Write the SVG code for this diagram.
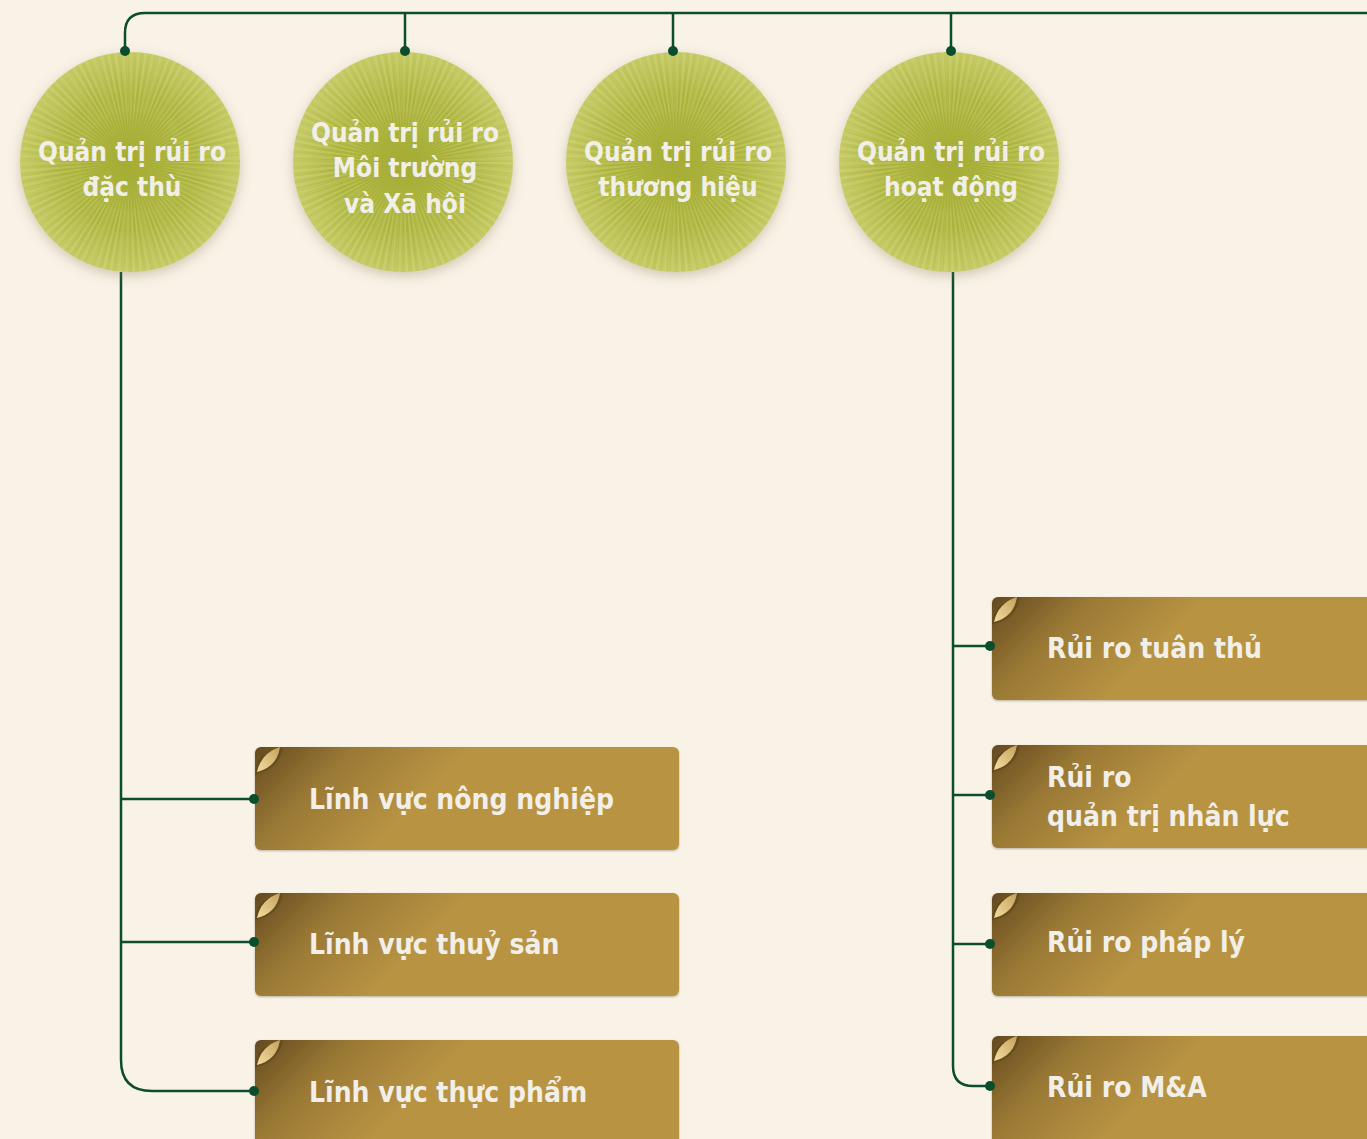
<svg xmlns="http://www.w3.org/2000/svg" width="1367" height="1139" viewBox="0 0 1367 1139">
<defs>
<radialGradient id="cg" cx="50%" cy="50%" r="50%">
<stop offset="0" stop-color="#a5ad34"/>
<stop offset="0.6" stop-color="#acb43f"/>
<stop offset="1" stop-color="#c3c862"/>
</radialGradient>
<linearGradient id="bg" x1="0" y1="0" x2="110" y2="110" gradientUnits="userSpaceOnUse">
<stop offset="0" stop-color="#65491f"/>
<stop offset="0.45" stop-color="#9a7935"/>
<stop offset="1" stop-color="#b89443"/>
</linearGradient>
<linearGradient id="peel" x1="0" y1="1" x2="1" y2="0">
<stop offset="0" stop-color="#f3dca0"/>
<stop offset="1" stop-color="#c6a25a"/>
</linearGradient>
<filter id="sh" x="-20%" y="-20%" width="140%" height="140%">
<feDropShadow dx="0" dy="4" stdDeviation="6" flood-color="#8a7a50" flood-opacity="0.35"/>
</filter>
<filter id="bsh" x="-5%" y="-10%" width="110%" height="125%">
<feDropShadow dx="0" dy="1" stdDeviation="1" flood-color="#5a4a30" flood-opacity="0.4"/>
</filter>
<radialGradient id="fade">
<stop offset="0" stop-color="#a5ad34" stop-opacity="1"/>
<stop offset="1" stop-color="#a5ad34" stop-opacity="0"/>
</radialGradient>
<g id="circ">
<circle r="110" fill="url(#cg)"/>
<circle r="55" fill="none" stroke="#e4e79a" stroke-opacity="0.22" stroke-width="110" stroke-dasharray="1.6 2.2"/>
<circle r="80" fill="none" stroke="#d8dc7c" stroke-opacity="0.22" stroke-width="60" stroke-dasharray="1.2 3.3"/>
<circle r="50" fill="url(#fade)"/>
</g>
<g id="curl">
<path d="M0,28 Q0,6 24,2 L28,0 Q24,22 4,26 Z" fill="#4a3618" opacity="0.35"/>
<path d="M2,25 Q6,6 25,0 Q22,20 2,25 Z" fill="url(#peel)"/>
</g>
<rect id="bx" width="424" height="103" rx="6" fill="url(#bg)" filter="url(#bsh)"/>
<rect id="bxl" width="424" height="110" rx="6" fill="url(#bg)" filter="url(#bsh)"/>
</defs>
<style>
.ln{fill:none;stroke:#0b4d2c;stroke-width:2.5}
.dot{fill:#0b4d2c}
.ct{font-family:"DejaVu Sans Condensed","DejaVu Sans",sans-serif;font-weight:bold;font-size:26px;fill:#f2efe9;text-anchor:middle}
.bt{font-family:"DejaVu Sans Condensed","DejaVu Sans",sans-serif;font-weight:bold;font-size:28px;fill:#f2efe9}
</style>
<rect width="1367" height="1139" fill="#f8f2e7"/>

<g id="connectors">
<path class="ln" d="M125,51 V33 Q125,13 145,13 H1367"/>
<path class="ln" d="M405,13 V51 M673,13 V51 M951,13 V51"/>
<path class="ln" d="M121,272 V1060 Q121,1091 152,1091 H255"/>
<path class="ln" d="M121,799 H255 M121,942 H255"/>
<path class="ln" d="M953,272 V1066 Q953,1086 973,1086 H990"/>
<path class="ln" d="M953,646 H990 M953,795 H990 M953,944 H990"/>
</g>

<g id="n1"><use href="#circ" x="130" y="162" filter="url(#sh)"/><text class="ct" x="132" y="161">Quản trị rủi ro</text><text class="ct" x="132" y="196">đặc thù</text></g>
<g id="n2"><use href="#circ" x="403" y="162" filter="url(#sh)"/><text class="ct" x="405" y="142">Quản trị rủi ro</text><text class="ct" x="405" y="177">Môi trường</text><text class="ct" x="405" y="213">và Xã hội</text></g>
<g id="n3"><use href="#circ" x="676" y="162" filter="url(#sh)"/><text class="ct" x="678" y="161">Quản trị rủi ro</text><text class="ct" x="678" y="196">thương hiệu</text></g>
<g id="n4"><use href="#circ" x="949" y="162" filter="url(#sh)"/><text class="ct" x="951" y="161">Quản trị rủi ro</text><text class="ct" x="951" y="196">hoạt động</text></g>

<g id="b1" transform="translate(255,747)"><use href="#bx"/><use href="#curl"/><text class="bt" x="54" y="62">Lĩnh vực nông nghiệp</text></g>
<g id="b2" transform="translate(255,893)"><use href="#bx"/><use href="#curl"/><text class="bt" x="54" y="61">Lĩnh vực thuỷ sản</text></g>
<g id="b3" transform="translate(255,1040)"><use href="#bxl"/><use href="#curl"/><text class="bt" x="54" y="62">Lĩnh vực thực phẩm</text></g>

<g id="b4" transform="translate(992,597)"><use href="#bx"/><use href="#curl"/><text class="bt" x="55" y="61">Rủi ro tuân thủ</text></g>
<g id="b5" transform="translate(992,745)"><use href="#bx"/><use href="#curl"/><text class="bt" x="55" y="42">Rủi ro</text><text class="bt" x="55" y="81">quản trị nhân lực</text></g>
<g id="b6" transform="translate(992,893)"><use href="#bx"/><use href="#curl"/><text class="bt" x="55" y="59">Rủi ro pháp lý</text></g>
<g id="b7" transform="translate(992,1036)"><use href="#bxl"/><use href="#curl"/><text class="bt" x="55" y="61">Rủi ro M&amp;A</text></g>

<g id="dots">
<circle class="dot" cx="125" cy="51" r="5"/>
<circle class="dot" cx="405" cy="51" r="5"/>
<circle class="dot" cx="673" cy="51" r="5"/>
<circle class="dot" cx="951" cy="51" r="5"/>
<circle class="dot" cx="254" cy="799" r="5"/>
<circle class="dot" cx="254" cy="942" r="5"/>
<circle class="dot" cx="254" cy="1091" r="5"/>
<circle class="dot" cx="990" cy="646" r="5"/>
<circle class="dot" cx="990" cy="795" r="5"/>
<circle class="dot" cx="990" cy="944" r="5"/>
<circle class="dot" cx="990" cy="1086" r="5"/>
</g>
</svg>
